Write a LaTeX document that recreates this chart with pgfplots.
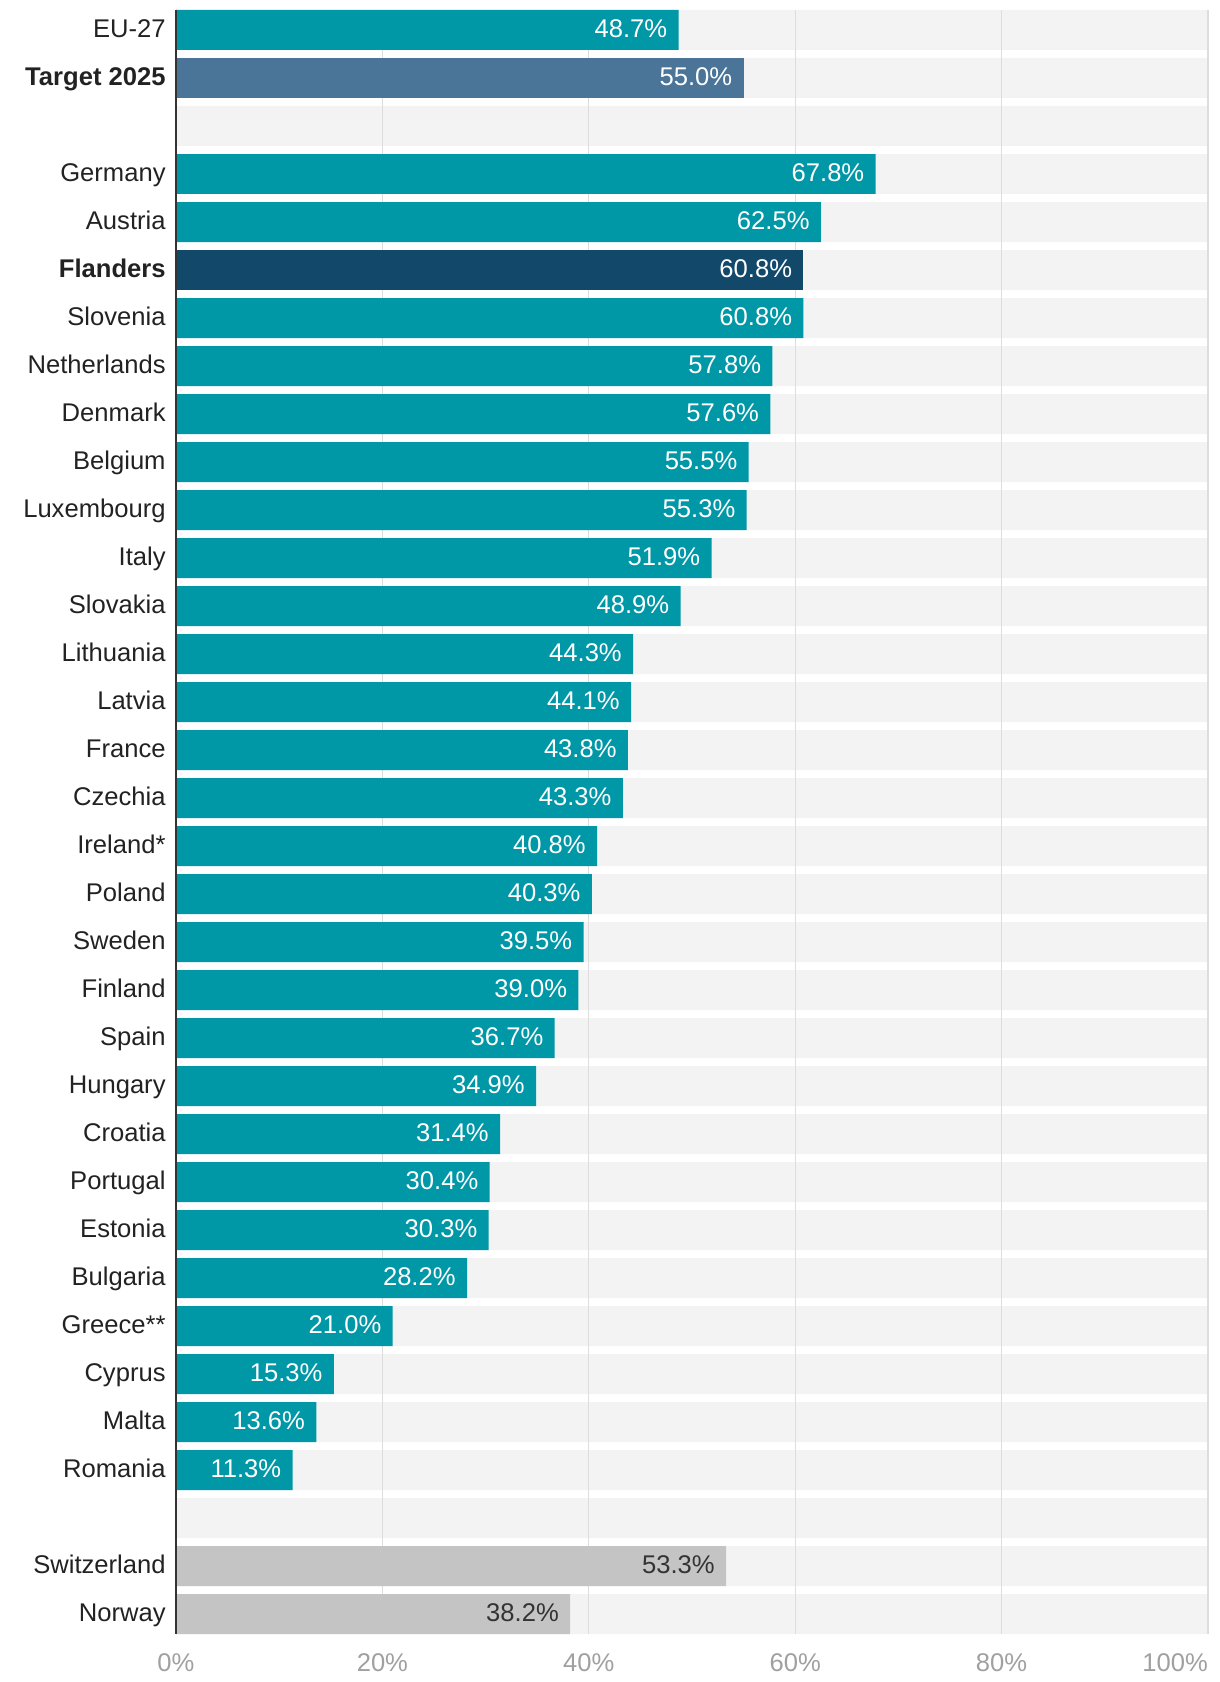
\documentclass[border=0pt]{standalone}
\usepackage{pgfplots}
\pgfplotsset{compat=1.18}
\usepackage{fontspec}
\setmainfont{Liberation Sans}
\definecolor{barteal}{HTML}{0097A7}
\definecolor{bartarget}{HTML}{4A7598}
\definecolor{barnavy}{HTML}{12496B}
\definecolor{bargray}{HTML}{C4C4C4}
\definecolor{stripe}{HTML}{F3F3F3}
\definecolor{gridc}{HTML}{DDDDDD}
\definecolor{tickgray}{HTML}{A0A0A0}
\definecolor{labeltext}{HTML}{222222}
\definecolor{axisline}{HTML}{333333}
\newcommand{\lbl}{\fontsize{12.8}{15}\selectfont}
\begin{document}
\begin{tikzpicture}
\begin{axis}[
  width=516pt, height=812pt, scale only axis,
  xmin=0, xmax=100, ymin=-0.41667, ymax=33.41667,
  y dir=reverse,
  xbar, bar width=20pt, bar shift=0pt,
  axis line style={draw=none},
  major tick length=0pt,
  xtick={0,20,40,60,80,100},
  xticklabels={0\%,20\%,40\%,60\%,80\%,\makebox[0pt][r]{100\%}},
  xticklabel style={anchor=north, inner sep=0pt, yshift=-9.5pt, text=tickgray, font=\lbl},
  ytick={0,...,33},
  yticklabels={EU-27,\textbf{Target 2025},{},Germany,Austria,\textbf{Flanders},Slovenia,Netherlands,Denmark,Belgium,Luxembourg,Italy,Slovakia,Lithuania,Latvia,France,Czechia,Ireland*,Poland,Sweden,Finland,Spain,Hungary,Croatia,Portugal,Estonia,Bulgaria,Greece**,Cyprus,Malta,Romania,{},Switzerland,Norway},
  yticklabel style={anchor=east, inner sep=0pt, xshift=-5pt, yshift=0.7pt, text=labeltext, font=\lbl, text height=9.2pt, text depth=0pt},
  clip=false,
  /pgf/number format/assume math mode=true,
  nodes near coords={\pgfmathprintnumber[fixed,fixed zerofill,precision=1]{\pgfplotspointmeta}\%},
  every node near coord/.style={anchor=east, inner sep=0pt, xshift=-5.5pt, yshift=0.7pt, font=\lbl, text=white, text height=9.2pt, text depth=0pt},
]
% background stripes
\addplot[fill=stripe, draw=none, nodes near coords={}] coordinates {
(100,0) (100,1) (100,2) (100,3) (100,4) (100,5) (100,6) (100,7) (100,8) (100,9)
(100,10) (100,11) (100,12) (100,13) (100,14) (100,15) (100,16) (100,17) (100,18) (100,19)
(100,20) (100,21) (100,22) (100,23) (100,24) (100,25) (100,26) (100,27) (100,28) (100,29)
(100,30) (100,31) (100,32) (100,33)};
% grid lines
\foreach \g in {20,40,60,80,100}{
  \edef\tmp{\noexpand\draw[gridc, line width=0.6pt] (axis cs:\g,-0.41667) -- (axis cs:\g,33.41667);}
  \tmp
}
% teal bars
\addplot[fill=barteal, draw=none, point meta=x] coordinates {
(48.7,0) (67.8,3) (62.5,4) (60.8,6) (57.8,7) (57.6,8) (55.5,9) (55.3,10)
(51.9,11) (48.9,12) (44.3,13) (44.1,14) (43.8,15) (43.3,16) (40.8,17) (40.3,18)
(39.5,19) (39.0,20) (36.7,21) (34.9,22) (31.4,23) (30.4,24) (30.3,25) (28.2,26)
(21.0,27) (15.3,28) (13.6,29) (11.3,30)};
% target
\addplot[fill=bartarget, draw=none, point meta=x] coordinates {(55.0,1)};
% Flanders
\addplot[fill=barnavy, draw=none, point meta=x] coordinates {(60.8,5)};
% non-EU
\addplot[fill=bargray, draw=none, point meta=x, every node near coord/.append style={text=axisline}] coordinates {(53.3,32) (38.2,33)};
% left axis line
\draw[axisline, line width=1pt] (axis cs:0,-0.41667) -- (axis cs:0,33.41667);
\coordinate (bl) at (axis cs:0,33.41667);
\coordinate (tr) at (axis cs:100,-0.41667);
\end{axis}
\path (bl) ++(-88pt,-24pt);
\path (tr) ++(6pt,5pt);
\end{tikzpicture}
\end{document}
